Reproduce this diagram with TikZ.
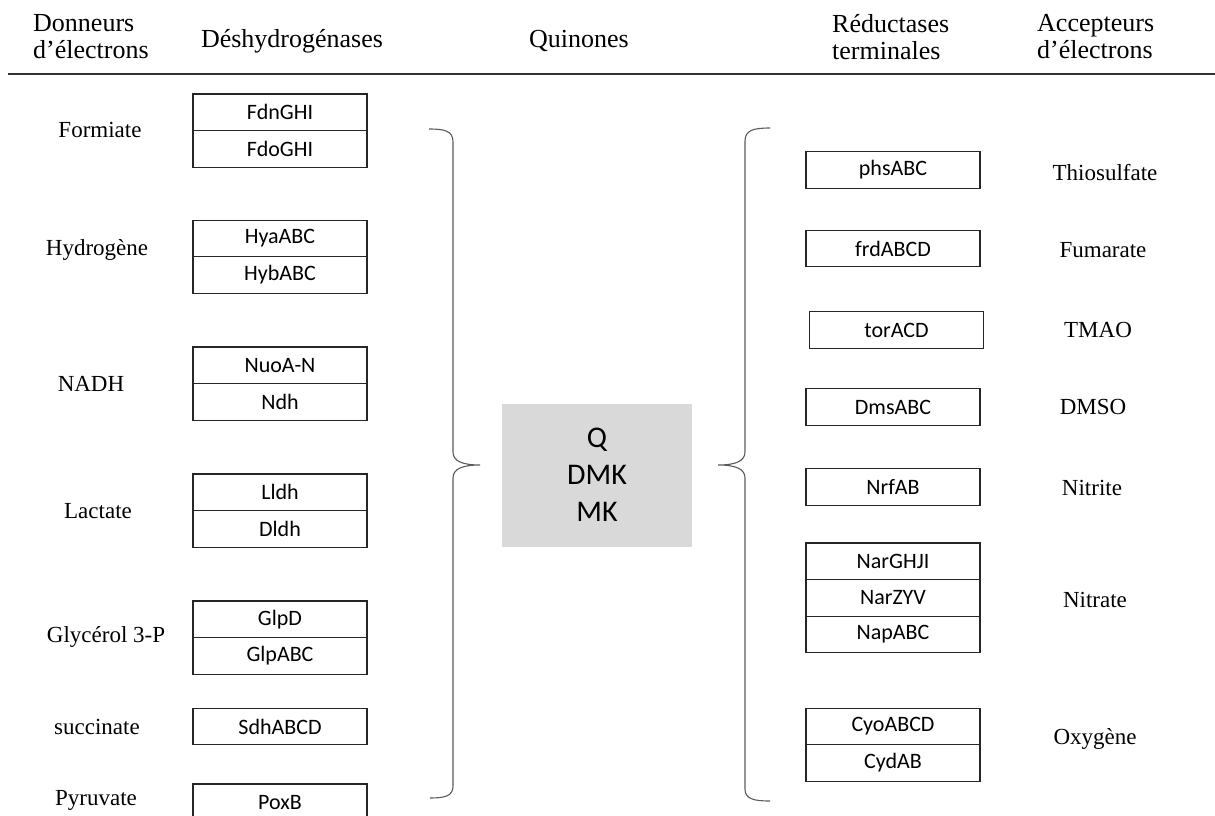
\documentclass[tikz,border=0pt]{standalone}
\usepackage{fontspec}
\setmainfont{Liberation Serif}
\newfontfamily\carl{Carlito}
\definecolor{qgray}{HTML}{D9D9D9}
\definecolor{brc}{HTML}{5A5A5A}
\begin{document}
\begin{tikzpicture}[x=1pt,y=-1pt,
  gene/.style={draw=black!85, line width=1.3pt, minimum width=174pt, minimum height=36.6pt, inner sep=0pt, font=\carl\fontsize{22}{26}\selectfont},
  lab/.style={font=\fontsize{23}{27}\selectfont, inner sep=0pt},
  head/.style={font=\fontsize{26}{27}\selectfont, inner sep=0pt, align=left},
  brace/.style={draw=brc, line width=1.1pt}]
\useasboundingbox (0,0) rectangle (1215,816);
% header
\node[head, anchor=west] (h1) at (33,37) {Donneurs\\d’électrons};
\node[head] (h2) at (292,41) {Déshydrogénases};
\node[head] (h3) at (579,41) {Quinones};
\node[head, anchor=west] (h4) at (832,37) {Réductases\\terminales};
\node[head, anchor=west] (h5) at (1037,37) {Accepteurs\\d’électrons};
\coordinate (hl) at (8,74);
\coordinate (hr) at (1215,74);
\draw[line width=1.3pt, black!80] (hl) -- (hr);
% left labels
\node[lab] (d1) at (100,130) {Formiate};
\node[lab] (d2) at (97,250) {Hydrogène};
\node[lab] (d3) at (91,384) {NADH};
\node[lab] (d4) at (98,511) {Lactate};
\node[lab] (d5) at (106,637) {Glycérol 3-P};
\node[lab] (d6) at (97,727) {succinate};
\node[lab] (d7) at (96,800) {Pyruvate};
% left genes
\node[gene] (g1a) at (280,112.3) {FdnGHI};
\node[gene] (g1b) at (280,148.9) {FdoGHI};
\node[gene] (g2a) at (280,238.5) {HyaABC};
\node[gene] (g2b) at (280,275.1) {HybABC};
\node[gene] (g3a) at (280,365.3) {NuoA-N};
\node[gene] (g3b) at (280,401.9) {Ndh};
\node[gene] (g4a) at (280,492.3) {Lldh};
\node[gene] (g4b) at (280,528.9) {Dldh};
\node[gene] (g5a) at (280,619.3) {GlpD};
\node[gene] (g5b) at (280,655.9) {GlpABC};
\node[gene] (g6) at (280,726.5) {SdhABCD};
\node[gene] (g7) at (280,802.3) {PoxB};
% quinones
\node[fill=qgray, minimum width=190pt, minimum height=143pt, align=center,
      font=\carl\fontsize{30}{37}\selectfont] (quin) at (597,475) {Q\\DMK\\MK};
% braces
\coordinate (lbt) at (429,129);
\coordinate (lbtip) at (480,465);
\coordinate (lbb) at (430,798);
\draw[brace] (lbt) .. controls (445,129) and (453,131) .. (453,142) -- (453,452)
  .. controls (453,461) and (462,465) .. (lbtip)
  .. controls (462,465) and (453,469) .. (453,478) -- (453,786)
  .. controls (453,796) and (445,798) .. (lbb);
\coordinate (rbt) at (770,128);
\coordinate (rbtip) at (718,465);
\coordinate (rbb) at (770,801);
\draw[brace] (rbt) .. controls (754,128) and (745,130) .. (745,141) -- (745,452)
  .. controls (745,461) and (736,465) .. (rbtip)
  .. controls (736,465) and (745,469) .. (745,478) -- (745,789)
  .. controls (745,799) and (754,801) .. (rbb);
% right genes
\node[gene] (r1) at (893,170) {phsABC};
\node[gene] (r2) at (893,248.5) {frdABCD};
\node[gene] (r3) at (896.5,330) {torACD};
\node[gene] (r4) at (893,407) {DmsABC};
\node[gene] (r5) at (893,487) {NrfAB};
\node[gene] (r6a) at (893,561.3) {NarGHJI};
\node[gene] (r6b) at (893,597.9) {NarZYV};
\node[gene] (r6c) at (893,634.5) {NapABC};
\node[gene] (r7a) at (893,726.5) {CyoABCD};
\node[gene] (r7b) at (893,763.1) {CydAB};
% right labels
\node[lab] (a1) at (1105,173) {Thiosulfate};
\node[lab] (a2) at (1103,250) {Fumarate};
\node[lab] (a3) at (1098,330) {TMAO};
\node[lab] (a4) at (1093,407) {DMSO};
\node[lab] (a5) at (1092,488) {Nitrite};
\node[lab] (a6) at (1095,600) {Nitrate};
\node[lab] (a7) at (1095,739) {Oxygène};
\end{tikzpicture}
\end{document}
